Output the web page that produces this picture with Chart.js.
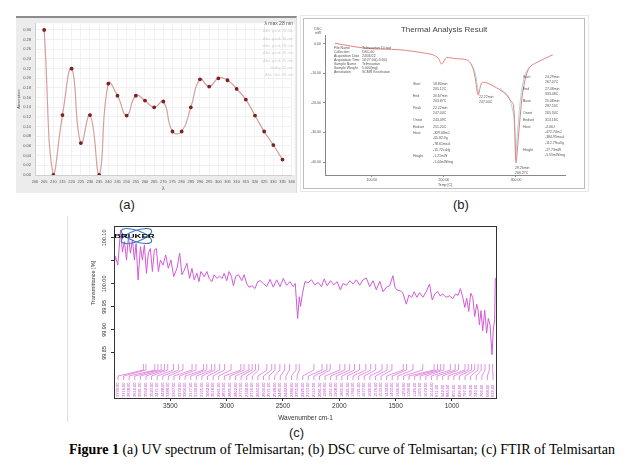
<!DOCTYPE html>
<html>
<head>
<meta charset="utf-8">
<script src="https://cdn.jsdelivr.net/npm/chart.js@4/dist/chart.umd.min.js"></script>
<style>
body{margin:0;width:627px;height:470px;background:#fff;position:relative;overflow:hidden;font-family:"Liberation Sans",Arial,sans-serif}
.abs{position:absolute}
#frameA{left:16px;top:16px;width:280px;height:175px;background:#ececec;border-top:2px solid #8c8c8c;border-right:1px solid #dcdcdc}
#frameB0{left:300px;top:15px;width:287px;height:175px;border:1px solid #e8e8e8}
#frameB{left:303px;top:18px;width:280px;height:169px;border:1px solid #bdbdbd;background:#fff}
#frameC{left:67px;top:216px;width:1px;height:206px;background:#dedede}
.lab{font-size:13px;color:#222}
#caption{left:69px;top:442px;font-family:"Liberation Serif","Times New Roman",serif;font-size:14px;white-space:nowrap;color:#000}
</style>
</head>
<body>
<div id="frameA" class="abs"></div>
<div id="frameB0" class="abs"></div>
<div id="frameB" class="abs"></div>
<div id="frameC" class="abs"></div>
<canvas id="uvChart" class="abs" width="281" height="175" style="left:16px;top:18px"></canvas>
<canvas id="dscChart" class="abs" width="280" height="169" style="left:304px;top:19px"></canvas>
<canvas id="irChart" class="abs" width="440" height="210" style="left:68px;top:215px"></canvas>
<div class="abs lab" style="left:119px;top:197px">(a)</div>
<div class="abs lab" style="left:453px;top:197px">(b)</div>
<div class="abs lab" style="left:289px;top:425px">(c)</div>
<div id="caption" class="abs"><b>Figure 1</b> (a) UV spectrum of Telmisartan; (b) DSC curve of Telmisartan; (c) FTIR of Telmisartan</div>

<script>
// ---- panel (a) UV spectrum
const uvWavelength = [205,210,215,220,225,230,235,240,245,250,255,260,265,270,275,280,285,290,295,300,305,310,315,320,325,330,335];
const uvAbsorbance = [0.300,0.000,0.124,0.220,0.066,0.124,0.000,0.189,0.164,0.123,0.164,0.154,0.140,0.152,0.090,0.090,0.140,0.198,0.183,0.200,0.196,0.178,0.156,0.123,0.090,0.062,0.032];
const uvTicksY = [0,0.02,0.04,0.06,0.08,0.10,0.12,0.14,0.16,0.18,0.20,0.22,0.24,0.26,0.28,0.30];
const uvLegend = ['λ max 28 nm','Abs. peak 23 nm','Abs. peak 30 nm','Abs. peak 28 nm','Abs. peak 26 nm','Abs. peak 25 nm','Valley 22 nm','Abs. Val. 28 nm'];

// ---- panel (b) DSC curve
const dscTemp = [48.6,92,138.9,170,184.7,192,196.8,203.8,215,231.5,238.5,243,247.6,252.4,259.3,268,277.8,287.1,291.7,296.3,298.5,300,303,308,312.5,319.4,333,351];
const dscHeat = [0.2,-1.5,-2.0,-3.0,-3.7,-4.8,-6.8,-4.7,-5.0,-5.4,-7.1,-11.0,-17.3,-13.2,-13.2,-14.2,-15.6,-17.3,-19.0,-20.5,-30.0,-40.3,-32.5,-19.0,-12.2,-7.8,-5.8,-3.7];
const dscBaseTemp1 = [237,243,248];
const dscBaseHeat1 = [-6.8,-9.5,-16.8];
const dscBaseTemp2 = [278,290,297,299.5,302,307,313,319];
const dscBaseHeat2 = [-15.0,-18.0,-25.0,-38.0,-30.0,-17.0,-10.0,-7.7];
const dscTicksX = [100,200,300];
const dscTicksY = [0,-10,-20,-30,-40];

// ---- panel (c) FTIR
const irWavenumber = [
  3995,3987,3966,3942,3925,3907,3889,3872,3854,3836,
  3819,3804,3786,3765,3748,3730,3712,3695,3677,3659,
  3642,3624,3606,3588,3565,3541,3518,3494,3470,3441,
  3417,3397,3376,3353,3329,3308,3288,3264,3246,3229,
  3199,3175,3155,3131,3111,3087,3063,3040,3022,2999,
  2978,2957,2940,2919,2895,2866,2845,2821,2801,2774,
  2748,2724,2701,2674,2645,2615,2586,2556,2526,2497,
  2468,2438,2409,2391,2370,2355,2344,2326,2305,2276,
  2246,2217,2187,2158,2134,2108,2078,2049,2019,1990,
  1966,1937,1907,1878,1848,1819,1789,1760,1730,1700,
  1671,1641,1612,1582,1553,1524,1506,1488,1459,1435,
  1405,1382,1358,1335,1311,1287,1258,1228,1199,1175,
  1152,1128,1105,1081,1052,1022,993,969,945,925,
  904,886,869,851,833,815,798,780,768,756,
  742,727,709,692,677,662,644,633,621,615,
  603];
const irTransmittance = [
  100.048,100.060,100.041,100.117,100.070,100.092,100.052,100.103,100.067,100.096,
  100.052,100.088,100.009,100.081,100.052,100.085,100.023,100.067,100.077,100.027,
  100.074,100.077,100.027,100.052,100.041,100.063,100.034,100.052,100.016,100.034,
  100.067,100.020,100.030,100.045,100.012,100.034,100.009,100.023,100.005,100.027,
  100.016,100.027,100.012,100.005,100.020,100.012,100.017,100.012,100.023,100.007,
  100.027,100.016,99.996,100.017,100.020,100.007,100.020,100.000,99.993,99.996,
  99.990,100.005,100.007,100.001,99.994,100.010,99.993,100.009,99.994,100.012,
  99.997,100.005,99.994,100.001,99.925,99.972,99.951,99.980,100.005,100.003,
  100.009,99.998,100.003,99.994,100.011,99.996,100.007,99.998,100.005,99.987,
  100.001,99.997,100.007,100.000,100.009,99.997,100.009,100.013,99.994,100.007,
  99.987,100.006,99.983,99.993,99.996,100.018,99.993,99.987,99.985,99.980,
  99.956,99.976,99.971,99.983,99.971,99.981,99.971,99.983,100.000,99.965,
  99.978,99.984,99.974,99.978,99.971,99.974,99.968,99.978,99.975,99.990,
  99.971,99.949,99.969,99.940,99.980,99.971,99.929,99.956,99.943,99.911,
  99.942,99.898,99.943,99.893,99.925,99.911,99.846,99.900,99.922,100.012,
  100.012];
const irPeaks = [3739,3716,3638,3610,3581,3552,3523,3471,3428,3388,3307,3272,3206,3177,3134,3105,3062,3018,2961,2874,
  2845,2802,2773,2744,2716,2643,2600,2571,2528,2485,2442,2384,2355,2225,2153,2110,2081,1995,1951,1908,
  1865,1821,1764,1721,1677,1620,1576,1533,1432,1403,1346,1259,1158,1129,1100,1072,1014,971,942,884,
  855,826,797,768,740,706,668,639];
const irTicksX = [3500,3000,2500,2000,1500,1000];
const irTicksY = [100.10,100.05,100.00,99.95,99.90,99.85];

// helpers
const FONT = '"Liberation Sans", Arial, sans-serif';
const pts = (xs, ys) => xs.map((x, i) => ({x, y: ys[i]}));
const fixW = w => s => { s.width = w; };
const fixH = h => s => { s.height = h; };
const setTicks = list => s => { s.ticks = list.map(v => ({value: v})); };
const base = {responsive:false, animation:false, plugins:{legend:{display:false}, tooltip:{enabled:false}}};

// === (a) UV
const uvPlugin = {
  id:'uvPlugin',
  beforeDraw(c){
    const {ctx, chartArea:a} = c;
    ctx.save(); ctx.fillStyle = '#fff';
    ctx.fillRect(a.left, a.top, a.right - a.left + 3, a.bottom - a.top);
    ctx.restore();
  },
  afterDraw(c){
    const ctx = c.ctx;
    ctx.save();
    ctx.textAlign = 'right'; ctx.textBaseline = 'middle';
    uvLegend.forEach((t, i) => {
      ctx.font = (i === 0 ? '5px ' : '4px ') + FONT;
      ctx.fillStyle = i === 0 ? '#555' : '#cfcfcf';
      ctx.fillText(t, 277, 6 + i * 7.3);
    });
    ctx.restore();
  }
};
new Chart(document.getElementById('uvChart'), {
  type:'line',
  data:{datasets:[{data:pts(uvWavelength, uvAbsorbance), borderColor:'#d3a09c', borderWidth:1.2, tension:0.5,
    pointRadius:1.3, pointBackgroundColor:'#7d1f22', pointBorderColor:'#7d1f22', fill:false}]},
  options:{...base, layout:{padding:{top:3, right:5}},
    scales:{
      x:{type:'linear', min:200, max:340, afterFit:fixH(18),
        ticks:{stepSize:5, autoSkip:false, maxRotation:0, padding:2, font:{size:4, family:FONT}, color:'#555'},
        grid:{color:'#f2f2f2', tickLength:2}, border:{color:'#cfcfcf'},
        title:{display:true, text:'λ', font:{size:5, family:FONT}, color:'#555', padding:{top:0, bottom:1}}},
      y:{min:0, max:0.314, afterFit:fixW(19), afterBuildTicks:setTicks(uvTicksY),
        ticks:{font:{size:4, family:FONT}, color:'#555', padding:2, callback:v => v.toFixed(2)},
        grid:{color:'#f0f0f0', tickLength:2}, border:{color:'#cfcfcf'},
        title:{display:true, text:'Absorption', font:{size:4, family:FONT}, color:'#555', padding:0}}
    }},
  plugins:[uvPlugin]
});

// === (b) DSC
const dscNotes = [
  // left info block
  ['File Name',30,29],['Telmisartan 10.tad',58,29],['Collection',30,33],['DSC-60',58,33],
  ['Acquisition Date',30,37],['24/06/22',58,37],['Acquisition Time',30,41],['16:27:00(+0:00)',58,41],
  ['Sample Name',30,45],['Telmisartan',58,45],['Sample Weight',30,49],['5.000[mg]',58,49],
  ['Annotation',30,53],['SCMR Kesehatan',58,53],
  // first peak block
  ['Start',109,65],['18.80min',129,65],['205.12C',129,70],['End',109,77],['20.67min',129,77],['203.87C',129,82],
  ['Peak',109,89],['22.22min',129,89],['247.04C',129,94],['Onset',109,101],['243.49C',129,101],
  ['Endset',109,108],['251.20C',129,108],['Heat',109,114],['-329.08mJ',129,114],['-65.82J/g',129,119],
  ['-78.61mcal',129,125],['-15.72cal/g',129,131],['Height',109,137],['-1.21mW',129,137],['-1.44mW/mg',129,143],
  ['22.22min',175,78],['247.04C',175,83],
  // main peak block
  ['Start',219,58],['24.29min',241,58],['267.07C',241,63],['End',219,70],['27.48min',241,70],['333.48C',241,75],
  ['Base',219,82],['25.08min',241,82],['287.53C',241,87],['Onset',219,94],['265.34C',241,94],
  ['Endset',219,101],['313.18C',241,101],['Heat',219,108],['-2.06J',241,108],['-472.74mJ',241,113],
  ['-384.95mcal',241,118],['-112.79cal/g',241,124],['Height',219,131],['-27.73mW',241,131],['-5.55mW/mg',241,136],
  ['29.26min',211,149],['266.27C',211,154]
];
const dscPlugin = {
  id:'dscPlugin',
  afterDraw(c){
    const ctx = c.ctx;
    ctx.save();
    ctx.fillStyle = '#444'; ctx.textAlign = 'center'; ctx.textBaseline = 'middle';
    ctx.font = '8px ' + FONT;
    ctx.fillText('Thermal Analysis Result', 140, 11);
    ctx.font = '3.5px ' + FONT; ctx.fillStyle = '#555';
    ctx.fillText('DSC', 14, 10); ctx.fillText('mW', 14, 14);
    ctx.textAlign = 'left';
    dscNotes.forEach(([t, x, y]) => ctx.fillText(t, x, y));
    ctx.restore();
  }
};
new Chart(document.getElementById('dscChart'), {
  type:'line',
  data:{datasets:[
    {data:pts(dscTemp, dscHeat), borderColor:'#e48080', borderWidth:1, tension:0.3, pointRadius:0},
    {data:pts(dscBaseTemp1, dscBaseHeat1), borderColor:'#8fd6d6', borderWidth:0.8, tension:0.3, pointRadius:0},
    {data:pts(dscBaseTemp2, dscBaseHeat2), borderColor:'#8fd6d6', borderWidth:0.8, tension:0.3, pointRadius:0}
  ]},
  options:{...base, layout:{padding:{top:16, right:19}},
    scales:{
      x:{type:'linear', min:35, max:368, afterFit:fixH(13), afterBuildTicks:setTicks(dscTicksX),
        ticks:{font:{size:3.5, family:FONT}, color:'#555', padding:1, callback:v => v.toFixed(2)},
        grid:{display:true, drawOnChartArea:false, tickLength:2, color:'#888'}, border:{color:'#888'},
        title:{display:true, text:'Temp [C]', font:{size:3.5, family:FONT}, color:'#555', padding:{top:0, bottom:1}}},
      y:{min:-44.4, max:3, afterFit:fixW(21), afterBuildTicks:setTicks(dscTicksY),
        ticks:{font:{size:3.5, family:FONT}, color:'#555', padding:2, callback:v => v.toFixed(2)},
        grid:{display:true, drawOnChartArea:false, tickLength:2, color:'#888'}, border:{color:'#888'}}
    }},
  plugins:[dscPlugin]
});

// === (c) FTIR
const irPlugin = {
  id:'irPlugin',
  afterDatasetsDraw(c){
    const {ctx, chartArea:a} = c;
    const xs = c.scales.x, ys = c.scales.y;
    ctx.save();
    // Bruker logo
    ctx.strokeStyle = '#3b78c4'; ctx.lineWidth = 1.1;
    ctx.beginPath(); ctx.ellipse(68.5, 21, 16, 5.5, 0.35, 0, Math.PI * 2); ctx.stroke();
    ctx.beginPath(); ctx.ellipse(68.5, 21, 16, 5.5, -0.35, 0, Math.PI * 2); ctx.stroke();
    ctx.fillStyle = '#000'; ctx.font = 'bold 5px ' + FONT; ctx.textBaseline = 'middle'; ctx.textAlign = 'left';
    ctx.translate(46, 21.5); ctx.scale(1.9, 1); ctx.fillText('BRUKER', 0, 0);
    ctx.restore();

    ctx.save();
    // frame
    ctx.strokeStyle = '#333'; ctx.lineWidth = 1;
    ctx.strokeRect(a.left + 0.5, a.top + 0.5, a.right - a.left - 1, a.bottom - a.top);
    // peak markers and labels
    ctx.strokeStyle = '#d566d6'; ctx.fillStyle = '#bf3cc6'; ctx.lineWidth = 0.7;
    const n = irPeaks.length, w = a.right - a.left - 8;
    ctx.font = '4px ' + FONT; ctx.textBaseline = 'middle'; ctx.textAlign = 'left';
    irPeaks.forEach((p, i) => {
      const px = xs.getPixelForValue(p);
      const sx = a.left + 4 + i * w / (n - 1);
      ctx.beginPath();
      ctx.moveTo(px, a.bottom - 34); ctx.lineTo(px, a.bottom - 28);
      ctx.lineTo(sx, a.bottom - 22); ctx.lineTo(sx, a.bottom - 18);
      ctx.stroke();
      ctx.save(); ctx.translate(sx, a.bottom - 1); ctx.rotate(-Math.PI / 2);
      ctx.fillText(p.toFixed(2), 0, 0); ctx.restore();
    });
    // y tick labels (rotated) and title
    ctx.fillStyle = '#333'; ctx.textAlign = 'center';
    ctx.font = '5.5px ' + FONT;
    irTicksY.forEach(v => {
      if (Math.abs(v - 100.05) < 1e-6) return;
      ctx.save(); ctx.translate(36, ys.getPixelForValue(v)); ctx.rotate(-Math.PI / 2);
      ctx.fillText(v.toFixed(2), 0, 0); ctx.restore();
    });
    ctx.save(); ctx.translate(25, 68); ctx.rotate(-Math.PI / 2);
    ctx.fillText('Transmittance [%]', 0, 0); ctx.restore();
    ctx.restore();
  }
};
new Chart(document.getElementById('irChart'), {
  type:'line',
  data:{datasets:[{data:pts(irWavenumber, irTransmittance), borderColor:'#d35ad8', borderWidth:1, tension:0, pointRadius:0}]},
  options:{...base, layout:{padding:{top:11, right:11}},
    scales:{
      x:{type:'linear', reverse:true, min:600, max:4000, afterFit:fixH(27), afterBuildTicks:setTicks(irTicksX),
        ticks:{font:{size:6.5, family:FONT}, color:'#333', padding:1, maxRotation:0, callback:v => String(v)},
        grid:{drawOnChartArea:false, tickLength:3, color:'#333'}, border:{display:false},
        title:{display:true, text:'Wavenumber cm-1', font:{size:6.5, family:FONT}, color:'#333', padding:{top:0, bottom:3}}},
      y:{min:99.752, max:100.126, afterFit:fixW(46), afterBuildTicks:setTicks(irTicksY),
        ticks:{callback:() => ''},
        grid:{drawOnChartArea:false, tickLength:3, color:'#333'}, border:{display:false}}
    }},
  plugins:[irPlugin]
});
</script>
</body>
</html>
